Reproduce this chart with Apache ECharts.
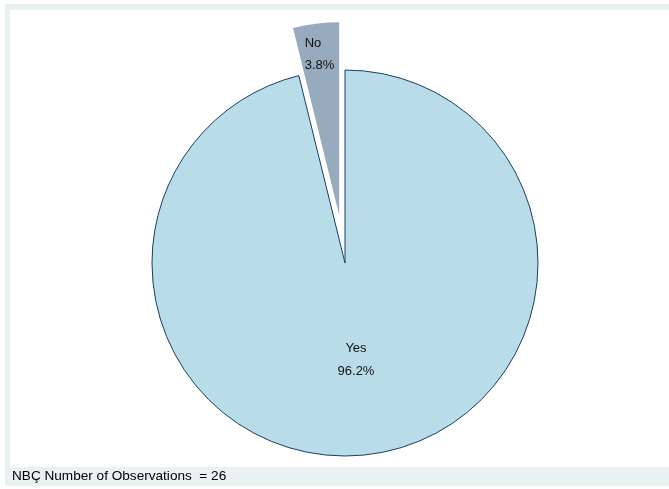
<!DOCTYPE html>
<html>
<head>
<meta charset="utf-8">
<script src="https://cdn.jsdelivr.net/npm/echarts@6/dist/echarts.min.js"></script>
<style>
html,body{margin:0;padding:0;background:#fff;}
#chart{width:669px;height:489px;}
</style>
</head>
<body>
<div id="chart"></div>
<script>
// Data
var categories = ["Yes", "No"];
var counts = [25, 1];
var noteText = "NBÇ Number of Observations  = 26";

var colors = ["#b8dde8", "#98aabd"];

var chart = echarts.init(document.getElementById('chart'), null, {renderer: 'canvas'});

var data = categories.map(function (c, i) {
  var item = {
    name: c,
    value: counts[i],
    itemStyle: {
      color: colors[i],
      borderColor: i === 0 ? "#1a3f66" : "rgba(0,0,0,0)",
      borderWidth: i === 0 ? 1 : 0
    }
  };
  if (c === "No") {
    item.selected = true;
    item.label = { formatter: '{l|{b}}\n{l|{d}%}' };
  }
  return item;
});

var option = {
  animation: false,
  backgroundColor: '#ffffff',
  graphic: [
    { type: 'rect', z: -10, shape: { x: 5, y: 4, width: 670, height: 482 }, style: { fill: '#eaf1f3' }, silent: true },
    { type: 'rect', z: -9, shape: { x: 10, y: 10, width: 665, height: 457 }, style: { fill: '#ffffff' }, silent: true }
  ],
  title: {
    text: noteText,
    left: 7,
    top: 464,
    textStyle: { fontFamily: 'Liberation Sans, Arial, sans-serif', fontSize: 13.6, fontWeight: 'normal', color: '#000' }
  },
  series: [{
    type: 'pie',
    center: [345, 263],
    radius: [0, 193],
    startAngle: 90,
    clockwise: true,
    selectedMode: 'single',
    selectedOffset: 48,
    percentPrecision: 1,
    avoidLabelOverlap: false,
    emphasis: { disabled: true },
    label: {
      show: true,
      position: 'inside',
      formatter: '{b}\n{d}%',
      fontFamily: 'Liberation Sans, Arial, sans-serif',
      fontSize: 13,
      lineHeight: 23,
      color: '#111',
      rich: {
        l: { width: 31, align: 'left', fontFamily: 'Liberation Sans, Arial, sans-serif', fontSize: 13, lineHeight: 22, color: '#111' }
      }
    },
    labelLine: { show: false },
    labelLayout: function (params) {
      if (params.dataIndex === 1) {
        return { dx: -7, dy: -62 };
      }
      return { dx: -1, dy: -2 };
    },
    data: data
  }]
};
chart.setOption(option);
</script>
</body>
</html>
